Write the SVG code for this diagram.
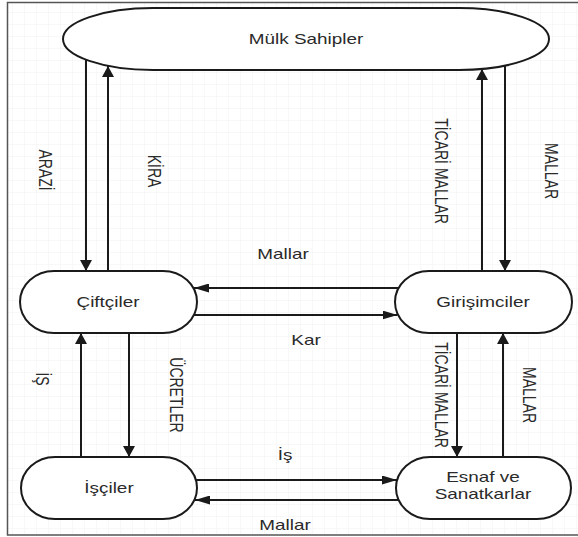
<svg xmlns="http://www.w3.org/2000/svg" width="578" height="537" viewBox="0 0 578 537">
  <style>
    .node { fill: #ffffff; stroke: #1a1a1a; stroke-width: 2; }
    .edge { fill: none; stroke: #1a1a1a; stroke-width: 2; }
    .txt { font-family: "Liberation Sans", Arial, sans-serif; font-size: 14px; fill: #2a2a2a; text-anchor: middle; }
  </style>
  <defs>
    <pattern id="grid" width="12" height="12" patternUnits="userSpaceOnUse">
      <path d="M12,0 L0,0 L0,12" fill="none" stroke="#f1f1f1" stroke-width="1"/>
    </pattern>
    <marker id="av" markerUnits="userSpaceOnUse" markerWidth="11" markerHeight="12" refX="11" refY="6" orient="auto">
      <path d="M0,0 L11,6 L0,12 z" fill="#1a1a1a"/>
    </marker>
    <marker id="ah" markerUnits="userSpaceOnUse" markerWidth="15" markerHeight="9" refX="15" refY="4.5" orient="auto">
      <path d="M0,0 L15,4.5 L0,9 z" fill="#1a1a1a"/>
    </marker>
  </defs>

  <!-- page background and frame -->
  <rect x="0" y="0" width="578" height="537" fill="#ffffff"/>
  <rect x="7.5" y="2.5" width="580" height="532.5" fill="url(#grid)" stroke="#555555" stroke-width="1.5"/>

  <!-- connectors -->
  <g id="connectors">
    <path class="edge" d="M86,59.7 L86,271" marker-end="url(#av)"/>
    <path class="edge" d="M108,271 L108,66" marker-end="url(#av)"/>
    <path class="edge" d="M482,271 L482,69" marker-end="url(#av)"/>
    <path class="edge" d="M505,65.6 L505,271" marker-end="url(#av)"/>
    <path class="edge" d="M398.7,288 L194,288" marker-end="url(#ah)"/>
    <path class="edge" d="M194,315 L397.5,315" marker-end="url(#ah)"/>
    <path class="edge" d="M81,457 L81,333" marker-end="url(#av)"/>
    <path class="edge" d="M129,333 L129,457" marker-end="url(#av)"/>
    <path class="edge" d="M457,333 L457,457" marker-end="url(#av)"/>
    <path class="edge" d="M503,457 L503,333" marker-end="url(#av)"/>
    <path class="edge" d="M195.8,480 L397,480" marker-end="url(#ah)"/>
    <path class="edge" d="M398.7,500 L195,500" marker-end="url(#ah)"/>

    <!-- edge labels -->
    <text class="txt" transform="translate(46,170) scale(1.35,1) rotate(90)" dy="0.35em">ARAZİ</text>
    <text class="txt" transform="translate(155,171) scale(1.35,1) rotate(90)" dy="0.35em">KİRA</text>
    <text class="txt" transform="translate(442,171) scale(1.35,1) rotate(90)" dy="0.35em">TİCARİ MALLAR</text>
    <text class="txt" transform="translate(552,171) scale(1.35,1) rotate(90)" dy="0.35em">MALLAR</text>
    <text class="txt" transform="translate(43,379) scale(1.35,1) rotate(90)" dy="0.35em">İŞ</text>
    <text class="txt" transform="translate(177,395) scale(1.35,1) rotate(90)" dy="0.35em">ÜCRETLER</text>
    <text class="txt" transform="translate(442,395) scale(1.35,1) rotate(90)" dy="0.35em">TİCARİ MALLAR</text>
    <text class="txt" transform="translate(530,395) scale(1.35,1) rotate(90)" dy="0.35em">MALLAR</text>
    <text class="txt" transform="translate(283,259) scale(1.35,1)">Mallar</text>
    <text class="txt" transform="translate(306,345) scale(1.35,1)">Kar</text>
    <text class="txt" transform="translate(285,460) scale(1.35,1)">İş</text>
    <text class="txt" transform="translate(285,530) scale(1.35,1)">Mallar</text>
  </g>

  <!-- nodes -->
  <g id="mulk-sahipler">
    <rect class="node" x="63" y="8" width="486" height="62" rx="90" ry="31"/>
    <text class="txt" transform="translate(306,44) scale(1.35,1)">Mülk Sahipler</text>
  </g>
  <g id="ciftciler">
    <rect class="node" x="20" y="271" width="177" height="62" rx="34" ry="31"/>
    <text class="txt" transform="translate(108,307) scale(1.35,1)">Çiftçiler</text>
  </g>
  <g id="girisimciler">
    <rect class="node" x="395" y="271" width="177" height="62" rx="34" ry="31"/>
    <text class="txt" transform="translate(483,307) scale(1.35,1)">Girişimciler</text>
  </g>
  <g id="isciler">
    <rect class="node" x="21" y="457" width="176" height="62" rx="34" ry="31"/>
    <text class="txt" transform="translate(109,493) scale(1.35,1)">İşçiler</text>
  </g>
  <g id="esnaf-ve-sanatkarlar">
    <rect class="node" x="396" y="457" width="175" height="62" rx="34" ry="31"/>
    <text class="txt" transform="translate(483,482) scale(1.35,1)">Esnaf ve</text>
    <text class="txt" transform="translate(483,499) scale(1.35,1)">Sanatkarlar</text>
  </g>
</svg>
